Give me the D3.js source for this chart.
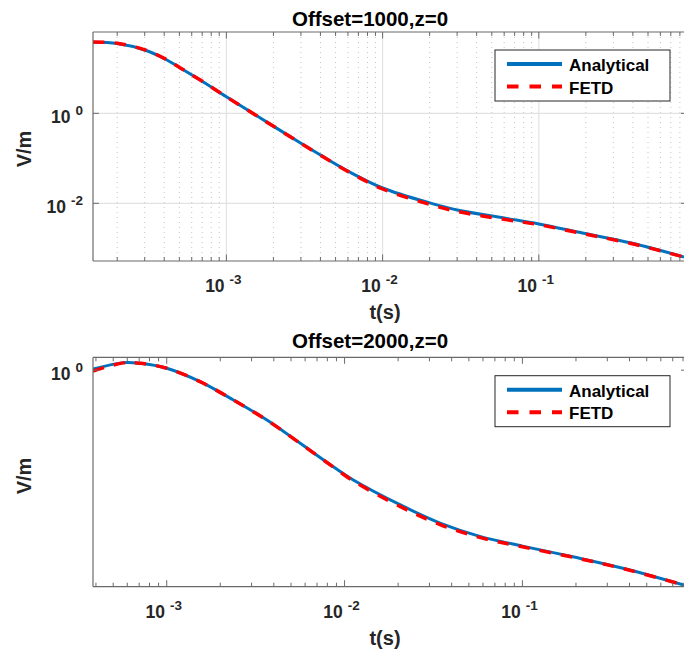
<!DOCTYPE html>
<html>
<head>
<meta charset="utf-8">
<script src="https://cdn.jsdelivr.net/npm/d3@7"></script>
<style>
body { margin: 0; background: #fff; }
svg { font-family: "Liberation Sans", Arial, sans-serif; font-weight: bold; }
</style>
</head>
<body>
<div id="chart-area"></div>
<script>
// Offset = 1000 m
var t1 = [1.4e-4, 2e-4, 3e-4, 4e-4, 5.07e-4, 6.8e-4, 1e-3, 1.65e-3, 3e-3, 4e-3, 6.2e-3, 1e-2, 2e-2, 3e-2, 6e-2, 0.1, 0.19, 0.39, 0.85]
var analytical1 = [37.8, 35.6, 25.5, 16.5, 10.2, 5.5, 2.34, 0.787, 0.2155, 0.1184, 0.0489, 0.0219, 0.0102, 0.0071, 0.0047, 0.00347, 0.00219, 0.00131, 0.00064]
var fetd1 = [38.5, 36.2, 25.8, 16.6, 10.2, 5.5, 2.33, 0.785, 0.215, 0.1175, 0.048, 0.0208, 0.0095, 0.0066, 0.0044, 0.00335, 0.00213, 0.00128, 0.00064]

// Offset = 2000 m
var t2 = [3.85e-4, 5.7e-4, 7.1e-4, 1e-3, 1.54e-3, 2.37e-3, 3.66e-3, 5.63e-3, 8.65e-3, 1.12e-2, 2.06e-2, 3.47e-2, 5.82e-2, 0.1, 0.195, 0.372, 0.81]
var analytical2 = [1.02, 1.166, 1.15, 1.04, 0.791, 0.544, 0.361, 0.2245, 0.139, 0.106, 0.0637, 0.0438, 0.0334, 0.0275, 0.022, 0.0174, 0.0124]
var fetd2 = [0.98, 1.16, 1.15, 1.04, 0.79, 0.543, 0.36, 0.224, 0.138, 0.104, 0.0615, 0.0425, 0.0327, 0.0271, 0.0218, 0.0173, 0.0124]

var titles = ['Offset=1000,z=0', 'Offset=2000,z=0']
var legendLabels = ['Analytical', 'FETD']
var xTicks = [1e-3, 1e-2, 1e-1]
var yTicks1 = [1e-2, 1]
var yTicks2 = [1]

var width = 684
var height = 655
var left = 93
var right = 684

var blue = '#0072BD'
var red = '#FF0000'
var axisColor = '#6a6a6a'
var textColor = '#262626'

var svg = d3.select('#chart-area')
    .append('svg')
        .attr('width', width)
        .attr('height', height)

var panels = [
    { top: 32, bottom: 261, xDomain: [1.4e-4, 0.85], yDomain: [Math.pow(10, -3.282), Math.pow(10, 1.807)],
      t: t1, a: analytical1, f: fetd1, yTicks: yTicks1, title: titles[0], grid: true,
      titleY: 26, legendY: 50, yLabelY: 149 },
    { top: 357.3, bottom: 586.7, xDomain: [3.85e-4, 0.81], yDomain: [0.012, 1.3],
      t: t2, a: analytical2, f: fetd2, yTicks: yTicks2, title: titles[1], grid: false,
      titleY: 348, legendY: 375.7, yLabelY: 476 }
]

function minorTicks (domain) {
    var out = []
    var lo = Math.floor(Math.log10(domain[0]))
    var hi = Math.ceil(Math.log10(domain[1]))
    for (var e = lo; e < hi; e++) {
        for (var m = 2; m <= 9; m++) {
            var v = m * Math.pow(10, e)
            if (v > domain[0] && v < domain[1]) out.push(v)
        }
    }
    return out
}

function expLabel (sel, exp) {
    sel.append('tspan').text('10')
    sel.append('tspan')
        .attr('dx', 5)
        .attr('dy', -8)
        .attr('font-size', 13.5)
        .text(exp)
}

panels.forEach(function (p, i) {
    var x = d3.scaleLog().domain(p.xDomain).range([left, right])
    var y = d3.scaleLog().domain(p.yDomain).range([p.bottom, p.top])
    var g = svg.append('g')
    var minor = minorTicks(p.xDomain)

    // grid
    if (p.grid) {
        g.selectAll('.minor-grid').data(minor).enter()
            .append('line')
                .attr('x1', d => x(d)).attr('x2', d => x(d))
                .attr('y1', p.top).attr('y2', p.bottom)
                .attr('stroke', '#c4c4c4')
                .attr('stroke-width', 1)
                .attr('stroke-dasharray', '1,4')
        g.selectAll('.major-grid').data(xTicks).enter()
            .append('line')
                .attr('x1', d => x(d)).attr('x2', d => x(d))
                .attr('y1', p.top).attr('y2', p.bottom)
                .attr('stroke', '#e2e2e2')
                .attr('stroke-width', 1.2)
        g.selectAll('.y-grid').data(p.yTicks).enter()
            .append('line')
                .attr('x1', left).attr('x2', right)
                .attr('y1', d => y(d)).attr('y2', d => y(d))
                .attr('stroke', '#e2e2e2')
                .attr('stroke-width', 1.2)
    }

    // clip for curves
    svg.append('clipPath').attr('id', 'clip' + i)
        .append('rect')
            .attr('x', left).attr('y', p.top)
            .attr('width', right - left).attr('height', p.bottom - p.top)

    var line = d3.line()
        .x(d => x(d[0]))
        .y(d => y(d[1]))
        .curve(d3.curveCatmullRom.alpha(0.5))

    g.append('path')
        .datum(p.t.map((t, k) => [t, p.a[k]]))
        .attr('clip-path', 'url(#clip' + i + ')')
        .attr('fill', 'none')
        .attr('stroke', blue)
        .attr('stroke-width', 3)
        .attr('d', line)

    g.append('path')
        .datum(p.t.map((t, k) => [t, p.f[k]]))
        .attr('clip-path', 'url(#clip' + i + ')')
        .attr('fill', 'none')
        .attr('stroke', red)
        .attr('stroke-width', 3.5)
        .attr('stroke-dasharray', '11.5,10')
        .attr('d', line)

    // axes box lines
    var box = g.append('g').attr('stroke', axisColor).attr('stroke-width', 1.2)
    box.append('line').attr('x1', left).attr('x2', right).attr('y1', p.top).attr('y2', p.top)
    box.append('line').attr('x1', left).attr('x2', right).attr('y1', p.bottom).attr('y2', p.bottom)
    box.append('line').attr('x1', left).attr('x2', left).attr('y1', p.top).attr('y2', p.bottom)

    // x ticks (inward, top and bottom)
    var allX = xTicks.map(d => ({ v: d, len: 6.5 })).concat(minor.map(d => ({ v: d, len: 4 })))
    g.selectAll('.xtick-b').data(allX).enter()
        .append('line')
            .attr('x1', d => x(d.v)).attr('x2', d => x(d.v))
            .attr('y1', p.bottom).attr('y2', d => p.bottom - d.len)
            .attr('stroke', axisColor)
    g.selectAll('.xtick-t').data(allX).enter()
        .append('line')
            .attr('x1', d => x(d.v)).attr('x2', d => x(d.v))
            .attr('y1', p.top).attr('y2', d => p.top + d.len)
            .attr('stroke', axisColor)

    // y ticks (inward, left and right)
    g.selectAll('.ytick-l').data(p.yTicks).enter()
        .append('line')
            .attr('x1', left).attr('x2', left + 6)
            .attr('y1', d => y(d)).attr('y2', d => y(d))
            .attr('stroke', axisColor)
    g.selectAll('.ytick-r').data(p.yTicks).enter()
        .append('line')
            .attr('x1', right - 3).attr('x2', right)
            .attr('y1', d => y(d)).attr('y2', d => y(d))
            .attr('stroke', axisColor)

    // x tick labels
    g.selectAll('.xlab').data(xTicks).enter()
        .append('text')
            .attr('x', d => x(d) - 3)
            .attr('y', p.bottom + 31)
            .attr('text-anchor', 'middle')
            .attr('font-size', 17.5)
            .attr('fill', textColor)
            .each(function (d) { expLabel(d3.select(this), Math.round(Math.log10(d))) })

    // y tick labels
    g.selectAll('.ylab').data(p.yTicks).enter()
        .append('text')
            .attr('x', 83)
            .attr('y', d => y(d) + 10)
            .attr('text-anchor', 'end')
            .attr('font-size', 17.5)
            .attr('fill', textColor)
            .each(function (d) { expLabel(d3.select(this), Math.round(Math.log10(d))) })

    // title
    g.append('text')
        .attr('x', 370)
        .attr('y', p.titleY)
        .attr('text-anchor', 'middle')
        .attr('font-size', 20.5)
        .attr('fill', '#000')
        .text(p.title)

    // x label
    g.append('text')
        .attr('x', 385)
        .attr('y', p.bottom + 58)
        .attr('text-anchor', 'middle')
        .attr('font-size', 20)
        .attr('fill', textColor)
        .text('t(s)')

    // y label
    g.append('text')
        .attr('transform', `translate(30.5, ${p.yLabelY}) rotate(-90)`)
        .attr('text-anchor', 'middle')
        .attr('font-size', 20)
        .attr('fill', textColor)
        .text('V/m')

    // legend
    var lg = g.append('g').attr('transform', `translate(495, ${p.legendY})`)
    lg.append('rect')
        .attr('width', 175).attr('height', 51)
        .attr('fill', '#fff')
        .attr('stroke', '#262626')
        .attr('stroke-width', 1)
    var items = [{ c: blue, dash: null, w: 4 }, { c: red, dash: '11.5,11', w: 4 }]
    items.forEach(function (it, k) {
        var ly = 14 + k * 22.5
        lg.append('line')
            .attr('x1', 12).attr('x2', 67)
            .attr('y1', ly).attr('y2', ly)
            .attr('stroke', it.c)
            .attr('stroke-width', it.w)
            .attr('stroke-dasharray', it.dash)
        lg.append('text')
            .attr('x', 74)
            .attr('y', ly + 7)
            .attr('font-size', 17)
            .attr('fill', '#000')
            .text(legendLabels[k])
    })
})
</script>
</body>
</html>
